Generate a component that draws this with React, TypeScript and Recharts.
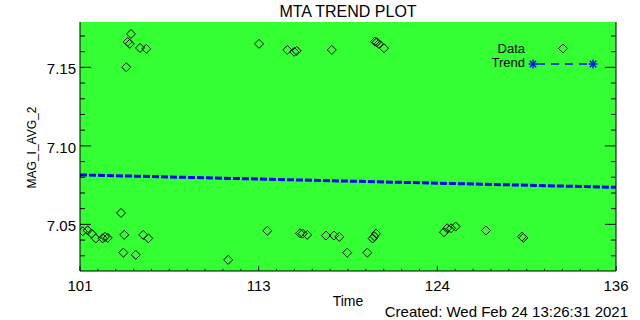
import React from 'react';
import { ComposedChart, Scatter, Line, XAxis, YAxis, CartesianGrid } from 'recharts';

// ---- data ----
const timeValues = [
  104.33, 104.11, 104.25, 104.92, 105.33, 104.02, 112.69, 114.54, 114.99, 115.15,
  117.44, 120.26, 120.37, 120.51, 120.85,
  103.68, 101.18, 101.5, 101.76, 102.03, 102.48, 102.63, 102.81, 103.89, 103.83,
  104.64, 105.13, 105.46, 110.68, 113.23, 115.37, 115.54, 115.84, 117.06, 117.59,
  117.93, 118.45, 119.76, 120.11, 120.22, 120.33, 124.77, 124.98, 125.23, 125.53,
  127.51, 129.95, 129.86,
];
const magValues = [
  7.1713, 7.1662, 7.165, 7.1624, 7.1618, 7.1501, 7.165, 7.1611, 7.1599, 7.1605,
  7.1611, 7.1664, 7.166, 7.165, 7.1622,
  7.0573, 7.0456, 7.0462, 7.0441, 7.041, 7.0411, 7.042, 7.0414, 7.0433, 7.032,
  7.0306, 7.0433, 7.0411, 7.0274, 7.0459, 7.0443, 7.0441, 7.0433, 7.0429, 7.0429,
  7.042, 7.032, 7.032, 7.041, 7.0424, 7.0441, 7.045, 7.0475, 7.0475, 7.0486,
  7.0461, 7.0414, 7.0422,
];
const trendTimes = [101, 136];
const trendValues = [7.0815, 7.0736];

const xMajorTicks = [101, 112.6667, 124.3333, 136];
const xTickLabels = ['101', '113', '124', '136'];
const xDomain: [number, number] = [101, 136];
const yMajorTicks = [7.05, 7.1, 7.15];
const yTickLabels = ['7.05', '7.10', '7.15'];
const yMinorTicks = [7.03, 7.04, 7.05, 7.06, 7.07, 7.08, 7.09, 7.1, 7.11, 7.12, 7.13, 7.14, 7.15, 7.16, 7.17];
const yDomain: [number, number] = [7.0203, 7.1789];

const scatterData = timeValues.map((x, i) => ({ x, y: magValues[i] }));
const trendData = trendTimes.map((x, i) => ({ x, y: trendValues[i] }));

// minor x ticks: 10 subdivisions between majors
const xAllTicks: number[] = [];
for (let i = 0; i < xMajorTicks.length - 1; i++) {
  const a = xMajorTicks[i];
  const b = xMajorTicks[i + 1];
  for (let k = 0; k < 10; k++) xAllTicks.push(a + ((b - a) * k) / 10);
}
xAllTicks.push(xMajorTicks[xMajorTicks.length - 1]);

const FONT = '"Liberation Sans", Arial, sans-serif';
const GREEN = '#33ff33';

const majorIndex = (arr: number[], v: number) => arr.findIndex((m) => Math.abs(m - v) < 1e-4);

const BottomTick = (props: any) => {
  const { x, y, payload } = props;
  const idx = majorIndex(xMajorTicks, payload.value);
  const len = idx >= 0 ? 5 : 2;
  return (
    <g>
      <line x1={x} x2={x} y1={y} y2={y - len} stroke="#000" strokeWidth={1} />
      {idx >= 0 && (
        <text x={x} y={y + 19.5} textAnchor="middle" fontFamily={FONT} fontSize={15} fill="#000">
          {xTickLabels[idx]}
        </text>
      )}
    </g>
  );
};

const TopTick = (props: any) => {
  const { x, y, payload } = props;
  const idx = majorIndex(xMajorTicks, payload.value);
  const len = idx >= 0 ? 5 : 2;
  return <line x1={x} x2={x} y1={y} y2={y + len} stroke="#000" strokeWidth={1} />;
};

const LeftTick = (props: any) => {
  const { x, y, payload } = props;
  const idx = majorIndex(yMajorTicks, payload.value);
  const len = idx >= 0 ? 11 : 5;
  return (
    <g>
      <line x1={x} x2={x + len} y1={y} y2={y} stroke="#000" strokeWidth={1} />
      {idx >= 0 && (
        <text x={x - 4} y={y + 7} textAnchor="end" fontFamily={FONT} fontSize={15} fill="#000">
          {yTickLabels[idx]}
        </text>
      )}
    </g>
  );
};

const RightTick = (props: any) => {
  const { x, y, payload } = props;
  const idx = majorIndex(yMajorTicks, payload.value);
  const len = idx >= 0 ? 11 : 5;
  return <line x1={x} x2={x - len} y1={y} y2={y} stroke="#000" strokeWidth={1} />;
};

const Diamond = (props: any) => {
  const { cx, cy } = props;
  if (cx == null || cy == null) return null;
  const r = 4.5;
  return (
    <polygon
      points={`${cx},${cy - r} ${cx + r},${cy} ${cx},${cy + r} ${cx - r},${cy}`}
      fill="none"
      stroke="#000"
      strokeWidth={1}
    />
  );
};

const Star = ({ x, y }: { x: number; y: number }) => {
  const r = 4.5;
  const d = 3.2;
  return (
    <g stroke="#0000ff" strokeWidth={1.3}>
      <line x1={x - r} x2={x + r} y1={y} y2={y} />
      <line x1={x} x2={x} y1={y - r} y2={y + r} />
      <line x1={x - d} x2={x + d} y1={y - d} y2={y + d} />
      <line x1={x - d} x2={x + d} y1={y + d} y2={y - d} />
    </g>
  );
};

export default function App() {
  return (
    <div style={{ position: 'absolute', left: 0, top: 0, width: 640, height: 320, background: '#fff' }}>
      <ComposedChart width={640} height={320} margin={{ top: 22, right: 0, bottom: 0, left: 0 }}>
        <CartesianGrid xAxisId="bottom" yAxisId="left" fill={GREEN} fillOpacity={1} horizontal={false} vertical={false} stroke="none" />
        <XAxis
          xAxisId="bottom"
          dataKey="x"
          type="number"
          domain={xDomain}
          allowDataOverflow
          ticks={xAllTicks}
          interval={0}
          height={49}
          tickSize={0}
          tickMargin={0}
          tickLine={false}
          axisLine={{ stroke: '#000', strokeWidth: 1 }}
          tick={BottomTick}
        />
        <XAxis
          xAxisId="top"
          orientation="top"
          dataKey="x"
          type="number"
          domain={xDomain}
          allowDataOverflow
          ticks={xAllTicks}
          interval={0}
          height={0}
          tickSize={0}
          tickMargin={0}
          tickLine={false}
          axisLine={{ stroke: '#000', strokeWidth: 1 }}
          tick={TopTick}
        />
        <YAxis
          yAxisId="left"
          type="number"
          domain={yDomain}
          allowDataOverflow
          ticks={yMinorTicks}
          interval={0}
          width={80}
          tickSize={0}
          tickMargin={0}
          tickLine={false}
          axisLine={{ stroke: '#000', strokeWidth: 1 }}
          tick={LeftTick}
        />
        <YAxis
          yAxisId="right"
          orientation="right"
          type="number"
          domain={yDomain}
          allowDataOverflow
          ticks={yMinorTicks}
          interval={0}
          width={24}
          tickSize={0}
          tickMargin={0}
          tickLine={false}
          axisLine={{ stroke: '#000', strokeWidth: 1 }}
          tick={RightTick}
        />
        <Line
          xAxisId="bottom"
          yAxisId="left"
          data={trendData}
          dataKey="y"
          type="linear"
          stroke="#0000ff"
          strokeWidth={3}
          strokeDasharray="7 2"
          dot={false}
          activeDot={false}
          isAnimationActive={false}
        />
        <Scatter
          xAxisId="bottom"
          yAxisId="left"
          data={scatterData}
          dataKey="y"
          shape={Diamond}
          isAnimationActive={false}
        />
      </ComposedChart>
      <svg
        width={640}
        height={320}
        style={{ position: 'absolute', left: 0, top: 0, pointerEvents: 'none' }}
        fontFamily={FONT}
      >
        <text x={348} y={17} textAnchor="middle" fontSize={16} fill="#000">MTA TREND PLOT</text>
        <text x={348} y={305.5} textAnchor="middle" fontSize={14} fill="#000">Time</text>
        <text x={628} y={316.5} textAnchor="end" fontSize={15} fill="#000">Created: Wed Feb 24 13:26:31 2021</text>
        <text transform="translate(36,147.5) rotate(-90)" textAnchor="middle" fontSize={12} fill="#000">MAG_I_AVG_2</text>
        <text x={525} y={52.5} textAnchor="end" fontSize={13} fill="#000">Data</text>
        <polygon points="563,44 567.5,48.5 563,53 558.5,48.5" fill="none" stroke="#000" strokeWidth={1} />
        <text x={525} y={67} textAnchor="end" fontSize={13} fill="#000">Trend</text>
        <line x1={533} x2={593} y1={64} y2={64} stroke="#0000ff" strokeWidth={1.3} strokeDasharray="8 6" strokeDashoffset={-4} />
        <Star x={533} y={64} />
        <Star x={593} y={64} />
      </svg>
    </div>
  );
}
